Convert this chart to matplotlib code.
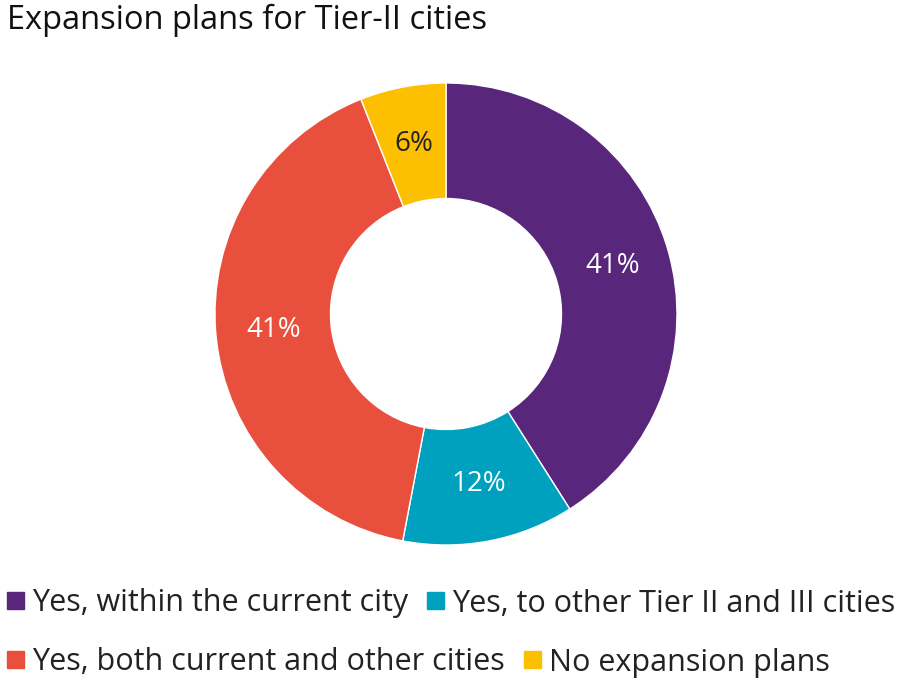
import matplotlib
matplotlib.use("Agg")
import matplotlib.pyplot as plt
from matplotlib.patches import Rectangle

plt.rcParams["font.family"] = ["Open Sans", "DejaVu Sans"]

# data
categories = [
    "Yes, within the current city",
    "Yes, to other Tier II and III cities",
    "Yes, both current and other cities",
    "No expansion plans",
]
shares = [41, 12, 41, 6]
colors = ["#58267a", "#00a0bf", "#e84f3d", "#fcc000"]
title = "Expansion plans for Tier-II cities"

W, H = 900, 695
fig = plt.figure(figsize=(W / 100, H / 100), dpi=100)

# donut: centre (446, 314) px, radius 231 px
cx, cy, r = 446, 314, 231
ax = fig.add_axes([(cx - r) / W, (H - cy - r) / H, 2 * r / W, 2 * r / H])
wedges, _, autotexts = ax.pie(
    shares, colors=colors, startangle=90, counterclock=False,
    wedgeprops=dict(width=0.5, edgecolor="white", linewidth=1),
    autopct="%d%%", pctdistance=0.75,
    textprops=dict(fontsize=20),
)
for t, c in zip(autotexts, colors):
    t.set_color("#222222" if c == "#fcc000" else "white")
ax.set_xlim(-1, 1)
ax.set_ylim(-1, 1)
ax.axis("off")

fig.text(7 / W, 1 - 4 / H, title, fontsize=23.5, va="top", ha="left", color="#111111")

# legend, two rows flowing left to right
rows = [[0, 1], [2, 3]]
row_y = [600, 659]
fig.canvas.draw()
renderer = fig.canvas.get_renderer()
for row, y in zip(rows, row_y):
    x = 7
    for i in row:
        fig.add_artist(Rectangle(((x) / W, (H - y - 8.5) / H), 17 / W, 17 / H,
                                 transform=fig.transFigure, color=colors[i]))
        t = fig.text((x + 25) / W, (H - y) / H, categories[i], fontsize=22,
                     va="center_baseline", ha="left", color="#222222")
        bb = t.get_window_extent(renderer)
        x = bb.x1 + 19

fig.savefig("out.png", dpi=100, facecolor="white")
